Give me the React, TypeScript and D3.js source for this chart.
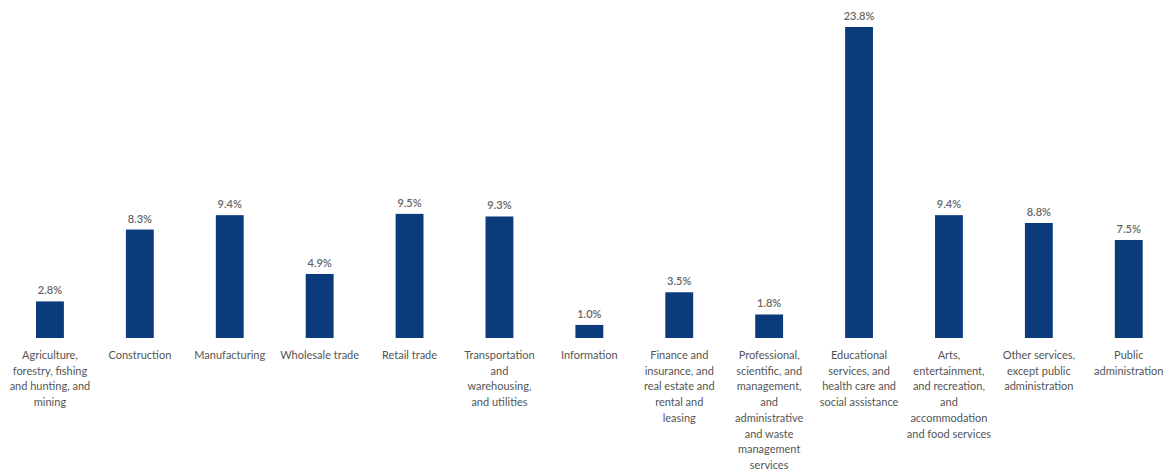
import React, { useEffect } from "react";
import * as d3 from "d3";

const categories: string[][] = [
  ["Agriculture,", "forestry, fishing", "and hunting, and", "mining"],
  ["Construction"],
  ["Manufacturing"],
  ["Wholesale trade"],
  ["Retail trade"],
  ["Transportation", "and", "warehousing,", "and utilities"],
  ["Information"],
  ["Finance and", "insurance, and", "real estate and", "rental and", "leasing"],
  ["Professional,", "scientific, and", "management,", "and", "administrative", "and waste", "management", "services"],
  ["Educational", "services, and", "health care and", "social assistance"],
  ["Arts,", "entertainment,", "and recreation,", "and", "accommodation", "and food services"],
  ["Other services,", "except public", "administration"],
  ["Public", "administration"],
];
const values: number[] = [2.8, 8.3, 9.4, 4.9, 9.5, 9.3, 1.0, 3.5, 1.8, 23.8, 9.4, 8.8, 7.5];

const W = 1174;
const H = 476;
const baseY = 338;
const topY = 27;

export default function App() {
  useEffect(() => {
    document.body.style.margin = "0";
  }, []);
  const keys = categories.map((_, i) => String(i));
  const x = d3
    .scaleBand<string>()
    .domain(keys)
    .range([5, 5 + 89.9 * 13])
    .paddingInner(0.69)
    .paddingOuter(0.345);
  const y = d3.scaleLinear().domain([0, 23.8]).range([baseY, topY]);
  const font = "Lato, 'Noto Sans', sans-serif";
  return (
    <svg width={W} height={H} style={{ display: "block", background: "#fff" }}>
      {values.map((v, i) => {
        const cx = (x(keys[i]) as number) + x.bandwidth() / 2;
        return (
          <g key={i}>
            <rect
              x={x(keys[i])}
              y={y(v)}
              width={x.bandwidth()}
              height={baseY - y(v)}
              fill="#0c3b7c"
            />
            <text
              x={cx}
              y={y(v) - 7}
              textAnchor="middle"
              fontFamily={font}
              fontSize={11}
              fontWeight={600}
              fill="#666"
            >
              {v.toFixed(1) + "%"}
            </text>
            <text
              x={cx}
              y={359}
              textAnchor="middle"
              fontFamily={font}
              fontSize={11}
              fill="#555"
            >
              {categories[i].map((line, j) => (
                <tspan key={j} x={cx} dy={j === 0 ? 0 : 15.7}>
                  {line}
                </tspan>
              ))}
            </text>
          </g>
        );
      })}
    </svg>
  );
}
